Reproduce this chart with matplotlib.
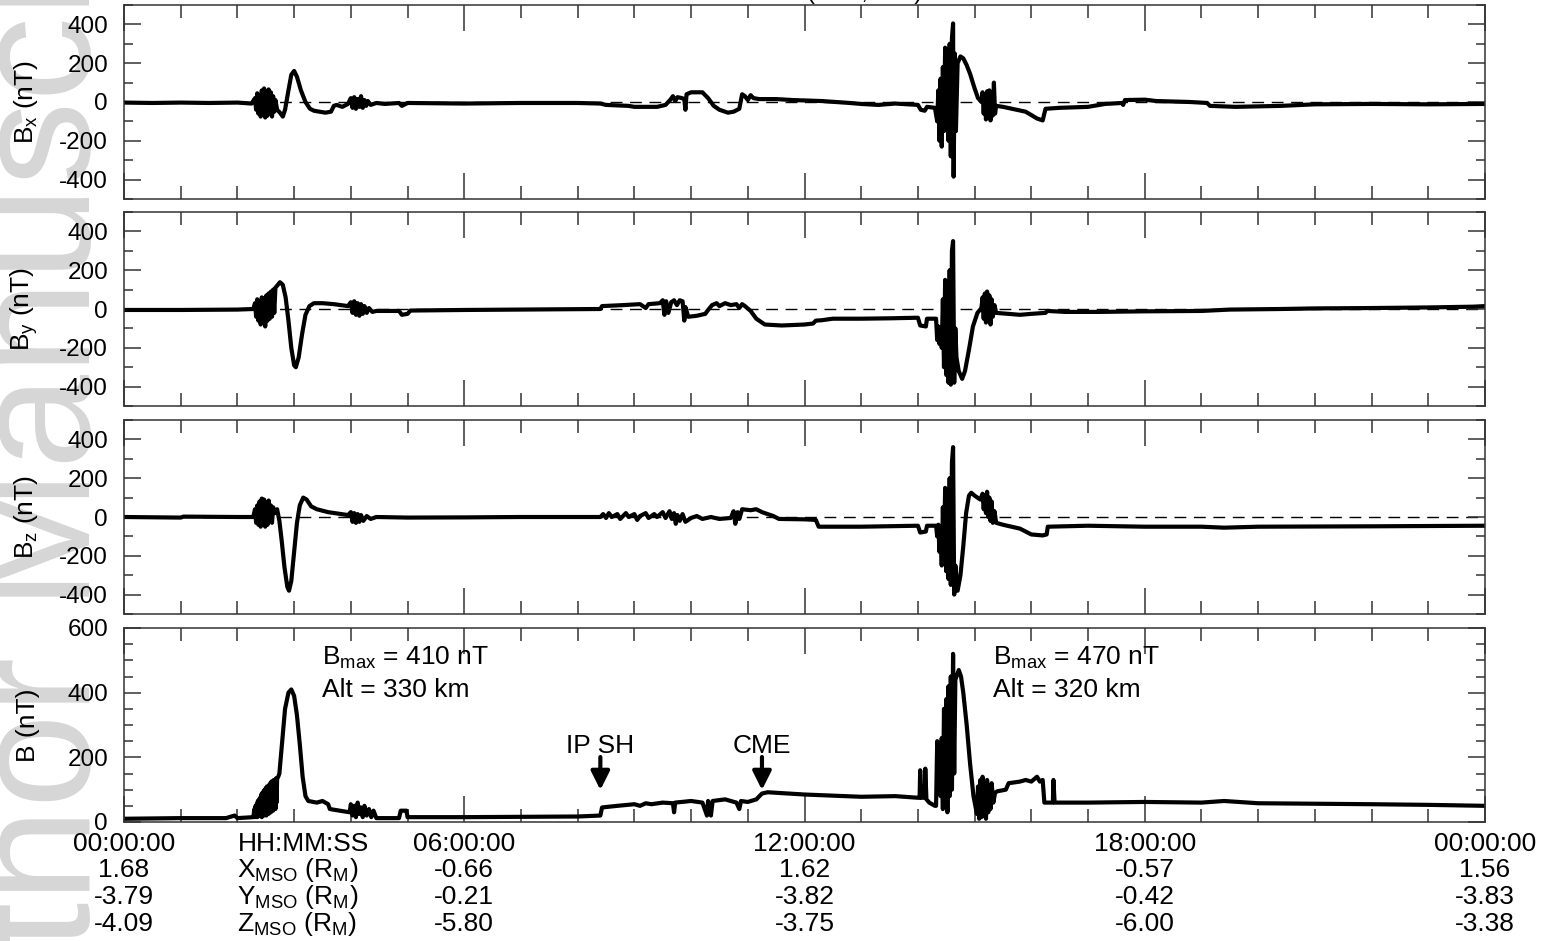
import matplotlib
matplotlib.use('Agg')
import matplotlib.pyplot as plt
import matplotlib.transforms as mtransforms
from matplotlib.ticker import MultipleLocator

plt.rcParams['font.family'] = ['Liberation Sans', 'DejaVu Sans']
plt.rcParams['mathtext.fontset'] = 'custom'
plt.rcParams['mathtext.rm'] = 'Liberation Sans'
plt.rcParams['mathtext.it'] = 'Liberation Sans:italic'
plt.rcParams['mathtext.bf'] = 'Liberation Sans:bold'
plt.rcParams['axes.unicode_minus'] = False

# ---- data: (time in hours, value in nT) ----
bx_pts = [
    (0, -3), (0.5, -5), (1.0, -3), (1.5, -5), (2.0, -3), (2.25, -8),
    (2.31, 20), (2.33, -40), (2.35, 45), (2.37, -60), (2.39, 30), (2.41, -75),
    (2.43, 60), (2.45, -50), (2.47, 70), (2.49, -80), (2.51, 40), (2.53, -70),
    (2.55, 65), (2.57, -60), (2.59, 50), (2.61, -75), (2.63, 30), (2.65, -50),
    (2.67, 10), (2.70, -40), (2.75, -55), (2.80, -75), (2.84, -40), (2.90, 60),
    (2.95, 140), (3.00, 160), (3.05, 130), (3.12, 60), (3.20, 0), (3.28, -35),
    (3.35, -45), (3.45, -50), (3.55, -55), (3.65, -50), (3.70, -20), (3.75, -15),
    (3.85, -25), (3.95, -10), (4.00, 20), (4.03, -30), (4.06, 25), (4.09, -35),
    (4.12, 15), (4.15, -25), (4.18, 30), (4.21, -30), (4.24, 10), (4.27, -20),
    (4.30, 5), (4.35, -15), (4.45, -5), (4.60, -10), (4.85, -5), (4.90, -20),
    (5.00, -5), (6.0, -8), (7.0, -5), (8.0, -5), (8.4, -8), (8.5, -15),
    (8.9, -20), (9.0, -25), (9.4, -25), (9.55, -15), (9.63, 10), (9.68, 30),
    (9.72, 5), (9.76, 25), (9.84, 20), (9.88, 15), (9.90, -40), (9.92, 40),
    (10.0, 50), (10.2, 50), (10.3, 20), (10.4, -20), (10.5, -40), (10.65, -55),
    (10.75, -50), (10.85, -35), (10.90, 40), (10.95, 30), (11.0, 10), (11.05, 35),
    (11.1, 20), (11.2, 15), (11.5, 15), (11.8, 10), (12.3, 5), (12.8, -5),
    (13.0, -10), (13.3, -15), (13.6, -8), (14.0, -15), (14.05, -40), (14.12, -45),
    (14.16, -25), (14.30, -30),
    (14.34, -100), (14.36, 60), (14.38, -200), (14.40, 120), (14.42, -230),
    (14.44, 180), (14.46, -150), (14.48, 280), (14.50, -100), (14.52, 250),
    (14.54, -200), (14.56, 300), (14.58, -280), (14.60, 330), (14.62, 405),
    (14.63, -385), (14.65, 250), (14.67, -150), (14.70, 200), (14.75, 235),
    (14.80, 225), (14.86, 190), (14.92, 145), (15.00, 70), (15.06, 20), (15.12, 0),
    (15.14, 50), (15.16, -60), (15.18, 40), (15.20, -90), (15.22, 55), (15.24, -80),
    (15.26, 60), (15.28, -95), (15.30, 40), (15.32, -70), (15.34, 100), (15.36, -60),
    (15.38, -20), (15.5, -25), (15.9, -50), (16.1, -85), (16.2, -95), (16.25, -35),
    (16.5, -30), (17.0, -25), (17.3, -10), (17.6, -5), (17.62, -15), (17.65, 10),
    (18.0, 12), (18.2, 5), (18.8, 0), (19.1, -5), (19.15, -20), (19.6, -25),
    (20.4, -20), (21.0, -12), (22.0, -10), (23.0, -12), (24.0, -10),
]

by_pts = [
    (0, -5), (1.0, -5), (2.0, -3), (2.28, 0),
    (2.31, 30), (2.33, -40), (2.35, 50), (2.37, -60), (2.39, 40), (2.41, -80),
    (2.43, 60), (2.45, -70), (2.47, 55), (2.49, -90), (2.51, 70), (2.53, -60),
    (2.55, 80), (2.57, -50), (2.59, 90), (2.61, -40), (2.63, 100), (2.65, -20),
    (2.67, 110), (2.70, 120), (2.75, 138), (2.80, 125), (2.85, 60), (2.90, -60),
    (2.95, -200), (3.00, -290), (3.03, -300), (3.08, -250), (3.14, -130),
    (3.20, -30), (3.27, 15), (3.35, 30), (3.5, 30), (3.7, 25), (3.95, 15),
    (4.00, 35), (4.03, -20), (4.06, 40), (4.09, -30), (4.12, 30), (4.15, -35),
    (4.18, 25), (4.21, -25), (4.24, 15), (4.28, -20), (4.32, 5), (4.38, -15),
    (4.45, -10), (4.85, -10), (4.90, -30), (5.00, -25), (5.05, -8), (6.0, -5),
    (7.0, -3), (8.4, 0), (8.43, 15), (8.8, 20), (9.1, 25), (9.2, 5), (9.25, 25),
    (9.45, 30), (9.50, 45), (9.53, -30), (9.56, 40), (9.60, -20), (9.65, 35),
    (9.70, 45), (9.75, 20), (9.80, 45), (9.85, 40), (9.88, -60), (9.90, 10),
    (9.95, -40), (10.1, -35), (10.25, -25), (10.3, -5), (10.37, 20), (10.45, 30),
    (10.5, 15), (10.6, 30), (10.7, 20), (10.8, 25), (10.85, 5), (10.9, 25),
    (10.95, 15), (11.05, -10), (11.15, -50), (11.3, -80), (11.6, -85),
    (12.0, -80), (12.15, -75), (12.2, -60), (12.3, -58), (12.5, -50), (13.0, -50),
    (13.5, -48), (14.0, -45), (14.04, -85), (14.14, -90), (14.16, -50), (14.32, -50),
    (14.34, -160), (14.36, -90), (14.38, -180), (14.40, -110), (14.42, -200),
    (14.44, 50), (14.46, -300), (14.48, 150), (14.50, -340), (14.52, 120),
    (14.54, -380), (14.56, 200), (14.58, -390), (14.60, 300), (14.62, 350),
    (14.64, -380), (14.66, -100), (14.68, -250), (14.72, -320), (14.78, -360),
    (14.83, -320), (14.90, -210), (14.97, -90), (15.05, -20), (15.12, 5),
    (15.14, 60), (15.16, -50), (15.18, 80), (15.20, -70), (15.22, 90), (15.24, -60),
    (15.26, 70), (15.28, -80), (15.30, 50), (15.32, -40), (15.35, 20), (15.38, -20),
    (15.6, -25), (15.8, -30), (16.0, -25), (16.25, -20), (16.28, -10), (16.6, -15),
    (17.2, -15), (18.0, -12), (19.0, -10), (19.5, -3), (20.4, 0), (21.0, 3),
    (22.0, 5), (23.0, 8), (23.8, 12), (24.0, 15),
]

bz_pts = [
    (0, 0), (1.0, -3), (1.05, 2), (2.0, 0), (2.28, 0),
    (2.31, 40), (2.33, -30), (2.35, 60), (2.37, -40), (2.39, 80), (2.41, -50),
    (2.43, 95), (2.45, -30), (2.47, 90), (2.49, -50), (2.51, 70), (2.53, -40),
    (2.55, 85), (2.57, -20), (2.59, 60), (2.61, -30), (2.63, 50), (2.66, 20),
    (2.70, 40), (2.74, -20), (2.78, -120), (2.83, -260), (2.88, -360), (2.91, -380),
    (2.95, -330), (3.00, -180), (3.05, -30), (3.10, 60), (3.16, 100), (3.22, 90),
    (3.30, 55), (3.40, 40), (3.60, 25), (3.95, 10),
    (4.00, 25), (4.03, -25), (4.06, 20), (4.09, -30), (4.12, 15), (4.15, -25),
    (4.18, 10), (4.22, -20), (4.28, 5), (4.35, -10), (4.45, 0), (5.0, -3),
    (6.0, -2), (7.0, 0), (8.4, 0),
    (8.45, 15), (8.5, -5), (8.55, 20), (8.6, 0), (8.7, 15), (8.75, -10),
    (8.85, 20), (8.9, 0), (9.0, 15), (9.05, -15), (9.1, 5), (9.2, 20), (9.25, -5),
    (9.35, 15), (9.4, 0), (9.5, 25), (9.55, -5), (9.62, 30), (9.66, -10),
    (9.70, 20), (9.73, -35), (9.76, 10), (9.80, -20), (9.85, 15), (9.90, -25),
    (10.0, -5), (10.1, 5), (10.2, -10), (10.35, 0), (10.5, -10), (10.7, -5),
    (10.75, 30), (10.78, -35), (10.82, 25), (10.85, -10), (10.9, 40), (11.05, 35),
    (11.15, 40), (11.25, 25), (11.45, 5), (11.55, -10), (12.0, -12), (12.2, -15),
    (12.25, -50), (13.0, -50), (14.0, -45), (14.04, -80), (14.14, -75),
    (14.16, -45), (14.32, -45),
    (14.34, -100), (14.36, -40), (14.38, -180), (14.40, -60), (14.42, -250),
    (14.44, 50), (14.46, -200), (14.48, 150), (14.50, -280), (14.52, 100),
    (14.54, -320), (14.56, 200), (14.58, -350), (14.60, 280), (14.62, 360),
    (14.64, -400), (14.66, -250), (14.70, -380), (14.75, -300), (14.80, -150),
    (14.85, 20), (14.90, 110), (14.94, 125), (15.00, 110), (15.10, 90),
    (15.14, 120), (15.16, 40), (15.18, 110), (15.20, 20), (15.22, 130), (15.24, 0),
    (15.26, 100), (15.28, -20), (15.30, 80), (15.32, -30), (15.35, 30), (15.38, -30),
    (15.5, -40), (15.8, -60), (16.0, -90), (16.2, -95), (16.27, -90), (16.29, -50),
    (17.0, -45), (18.0, -50), (19.0, -50), (19.4, -55), (20.0, -50), (22.0, -48),
    (24.0, -45),
]

b_pts = [
    (0, 10), (1.0, 12), (1.8, 12), (1.95, 20), (2.0, 12), (2.28, 15),
    (2.30, 40), (2.31, 15), (2.32, 50), (2.33, 18), (2.34, 55), (2.35, 15),
    (2.36, 65), (2.37, 20), (2.38, 70), (2.39, 18), (2.40, 75), (2.41, 22),
    (2.42, 85), (2.43, 15), (2.44, 90), (2.45, 25), (2.46, 95), (2.47, 20),
    (2.48, 100), (2.49, 30), (2.50, 105), (2.51, 20), (2.52, 110), (2.53, 35),
    (2.54, 110), (2.55, 25), (2.56, 115), (2.57, 40), (2.58, 120), (2.59, 30),
    (2.60, 125), (2.61, 45), (2.62, 125), (2.63, 35), (2.64, 130), (2.65, 50),
    (2.66, 130), (2.67, 40), (2.68, 135), (2.69, 60), (2.70, 135), (2.72, 140),
    (2.74, 150), (2.79, 250), (2.84, 350),
    (2.90, 400), (2.95, 410), (3.00, 390), (3.05, 330), (3.10, 240), (3.15, 140),
    (3.20, 80), (3.25, 65), (3.40, 60), (3.50, 65), (3.60, 55), (3.63, 40),
    (3.80, 35), (3.98, 30),
    (4.00, 55), (4.03, 20), (4.06, 50), (4.09, 15), (4.12, 60), (4.15, 25),
    (4.18, 45), (4.21, 15), (4.24, 50), (4.28, 20), (4.32, 40), (4.36, 15),
    (4.40, 35), (4.45, 12), (4.85, 12), (4.88, 35), (4.98, 35), (5.0, 15),
    (6.0, 15), (7.0, 16), (8.0, 17), (8.4, 20), (8.43, 45), (8.7, 50), (9.0, 55),
    (9.1, 50), (9.2, 58), (9.3, 55), (9.5, 60), (9.68, 58), (9.70, 30), (9.72, 60),
    (10.0, 65), (10.2, 60), (10.28, 20), (10.30, 65), (10.35, 20), (10.38, 65),
    (10.6, 70), (10.8, 60), (10.85, 40), (10.88, 65), (11.0, 62), (11.15, 70),
    (11.25, 88), (11.35, 92), (12.0, 85), (13.0, 78), (13.6, 80), (14.0, 75),
    (14.03, 75), (14.04, 160), (14.06, 75), (14.12, 75), (14.13, 165), (14.15, 70),
    (14.20, 60), (14.30, 50), (14.32, 50),
    (14.34, 250), (14.36, 90), (14.38, 240), (14.40, 80), (14.42, 260), (14.44, 40),
    (14.46, 350), (14.48, 60), (14.50, 380), (14.52, 30), (14.54, 420), (14.56, 80),
    (14.58, 450), (14.60, 100), (14.62, 520), (14.64, 150), (14.66, 440),
    (14.70, 460), (14.72, 470), (14.76, 450), (14.80, 400), (14.86, 300),
    (14.92, 180), (14.98, 80), (15.04, 25),
    (15.06, 110), (15.08, 10), (15.10, 130), (15.12, 15), (15.14, 140), (15.16, 20),
    (15.18, 120), (15.20, 10), (15.22, 130), (15.24, 30), (15.26, 100), (15.28, 40),
    (15.30, 120), (15.33, 60), (15.36, 90), (15.40, 95), (15.55, 100), (15.60, 120),
    (15.8, 125), (15.9, 130), (16.0, 125), (16.1, 140), (16.15, 125), (16.2, 130),
    (16.23, 60), (16.38, 60), (16.39, 130), (16.41, 60), (17.0, 60), (18.0, 62),
    (19.0, 60), (19.4, 65), (20.0, 58), (22.0, 55), (23.0, 53), (24.0, 50),
]

time_ticks = [0, 6, 12, 18, 24]
time_labels = ['00:00:00', '06:00:00', '12:00:00', '18:00:00', '00:00:00']
x_mso = ['1.68', '-0.66', '1.62', '-0.57', '1.56']
y_mso = ['-3.79', '-0.21', '-3.82', '-0.42', '-3.83']
z_mso = ['-4.09', '-5.80', '-3.75', '-6.00', '-3.38']
row_names = ['HH:MM:SS', r'X$_\mathrm{MSO}$ (R$_\mathrm{M}$)',
             r'Y$_\mathrm{MSO}$ (R$_\mathrm{M}$)', r'Z$_\mathrm{MSO}$ (R$_\mathrm{M}$)']
ylabels = [r'B$_\mathrm{x}$ (nT)', r'B$_\mathrm{y}$ (nT)', r'B$_\mathrm{z}$ (nT)', 'B (nT)']

series = [bx_pts, by_pts, bz_pts, b_pts]

fig = plt.figure(figsize=(15.47, 9.41), dpi=100)

# faint watermark in the left margin
fig.text(90 / 1547, 1 - 1156 / 941, 'Author Manuscript', rotation=90,
         rotation_mode='anchor', ha='left', va='baseline', fontsize=122,
         color='#d6d6d6', zorder=-5)

# cut-off title at the very top
fig.text(865 / 1547, 1.001, '(       ,       )', ha='center', va='baseline', fontsize=17)

left, width, height = 124 / 1547, 1361 / 1547, 194 / 941
bottoms = [1 - 199 / 941, 1 - 406 / 941, 1 - 614 / 941, 1 - 822 / 941]

fs = 17.5     # y tick labels
fs2 = 19      # other texts
axes = []
for i, pts in enumerate(series):
    ax = fig.add_axes([left, bottoms[i], width, height])
    t = [p[0] for p in pts]
    v = [p[1] for p in pts]
    if i < 3:
        ax.axhline(0, color='k', lw=1.0, ls=(0, (8.5, 5.5)), zorder=1)
        ax.set_ylim(-500, 500)
        ax.set_yticks([-400, -200, 0, 200, 400])
        ax.yaxis.set_minor_locator(MultipleLocator(100))
    else:
        ax.set_ylim(0, 600)
        ax.set_yticks([0, 200, 400, 600])
        ax.yaxis.set_minor_locator(MultipleLocator(50))
    ax.plot(t, v, color='k', lw=3.0, zorder=2)
    ax.set_xlim(0, 24)
    ax.set_xticks(time_ticks)
    ax.xaxis.set_minor_locator(MultipleLocator(1))
    ax.tick_params(axis='both', which='both', direction='in', top=True, right=True,
                   color='#333333', width=1.1, labelbottom=False)
    ax.tick_params(axis='x', which='major', length=19)
    ax.tick_params(axis='x', which='minor', length=9.5)
    ax.tick_params(axis='y', which='major', length=12, labelsize=fs, pad=11.5)
    ax.tick_params(axis='y', which='minor', length=6.5)
    for s in ax.spines.values():
        s.set_color('#333333')
        s.set_linewidth(1.1)
    ax.set_ylabel(ylabels[i], fontsize=fs2)
    ax.yaxis.set_label_coords(-0.0617, 0.5)
    axes.append(ax)

ax4 = axes[3]

# multi-row time / position labels under the bottom panel
trans = mtransforms.blended_transform_factory(ax4.transData, fig.transFigure)
row_y = [1 - 851 / 941, 1 - 877 / 941, 1 - 904 / 941, 1 - 931 / 941]
for j, tk in enumerate(time_ticks):
    for k, txt in enumerate([time_labels[j], x_mso[j], y_mso[j], z_mso[j]]):
        fig.text(tk, row_y[k], txt, transform=trans, ha='center', va='baseline', fontsize=fs2)
for k, name in enumerate(row_names):
    fig.text(2.0, row_y[k], name, transform=trans, ha='left', va='baseline', fontsize=fs2)

# annotations in the |B| panel
ax4.text(3.49, 486, r'B$_\mathrm{max}$ = 410 nT', fontsize=fs2, va='baseline')
ax4.text(3.49, 387, 'Alt = 330 km', fontsize=fs2, va='baseline')
ax4.text(15.33, 486, r'B$_\mathrm{max}$ = 470 nT', fontsize=fs2, va='baseline')
ax4.text(15.33, 387, 'Alt = 320 km', fontsize=fs2, va='baseline')

for label, tx in [('IP SH', 8.40), ('CME', 11.25)]:
    ax4.annotate('', xy=(tx, 99), xytext=(tx, 201),
                 arrowprops=dict(arrowstyle='-|>', color='k', lw=3, mutation_scale=28,
                                 shrinkA=0, shrinkB=0))
    ax4.text(tx, 214, label, fontsize=fs2, ha='center', va='baseline')

fig.savefig('out.png', dpi=100)
